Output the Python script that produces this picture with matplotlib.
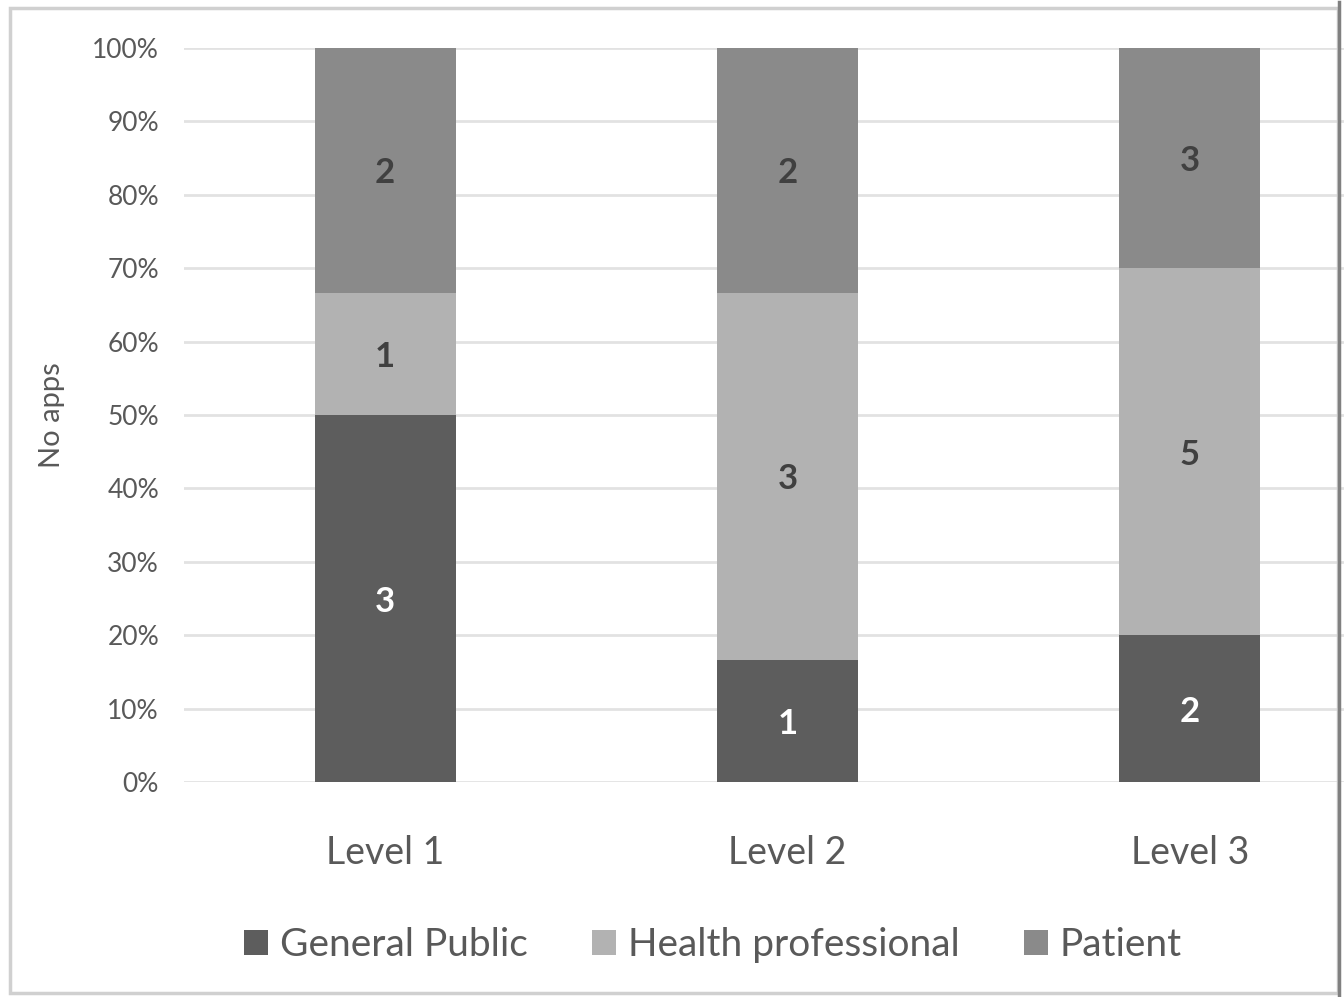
import matplotlib
matplotlib.use("Agg")
import matplotlib.pyplot as plt
from matplotlib.patches import Rectangle
from matplotlib.ticker import FuncFormatter
import numpy as np

categories = ["Level 1", "Level 2", "Level 3"]
series_names = ["General Public", "Health professional", "Patient"]
general_public = [3, 1, 2]
health_professional = [1, 3, 5]
patient = [2, 2, 3]
colors = ["#5d5d5d", "#b2b2b2", "#8a8a8a"]
label_colors = ["white", "#404040", "#404040"]
yticks = [0, 10, 20, 30, 40, 50, 60, 70, 80, 90, 100]

plt.rcParams['font.family'] = ['Lato', 'DejaVu Sans']

W, H = 1344, 997
fig = plt.figure(figsize=(W / 100, H / 100), dpi=100)
fig.patch.set_facecolor("white")

def px(x0, y0, x1, y1):
    return [x0 / W, 1 - y1 / H, (x1 - x0) / W, (y1 - y0) / H]

ax = fig.add_axes(px(184, 48, 1391, 782))

data = np.array([general_public, health_professional, patient], dtype=float)
totals = data.sum(axis=0)
pct = data / totals * 100
x = np.arange(len(categories))
bottom = np.zeros(len(categories))
for i, name in enumerate(series_names):
    bars = ax.bar(x, pct[i], 0.35, bottom=bottom, color=colors[i], label=name, zorder=3)
    for j, b in enumerate(bars):
        ax.text(b.get_x() + b.get_width() / 2, bottom[j] + pct[i][j] / 2,
                f"{int(data[i][j])}", ha="center", va="center_baseline",
                fontsize=25, fontweight="bold", color=label_colors[i], zorder=4)
    bottom += pct[i]

ax.set_xlim(-0.5, 2.5)
ax.set_ylim(0, 100)
ax.set_yticks(yticks)
ax.yaxis.set_major_formatter(FuncFormatter(lambda v, p: f"{int(v)}%"))
ax.grid(axis="y", color="#e2e2e2", linewidth=2, zorder=0)
ax.set_xticks(x)
ax.set_xticklabels(categories, fontsize=27, color="#595959")
ax.tick_params(axis="y", labelsize=19, colors="#595959", length=0, pad=18)
ax.tick_params(axis="x", length=0, pad=38)
for s in ax.spines.values():
    s.set_visible(False)

fig.text(52 / W, 1 - 415 / H, "No apps", rotation=90, ha="center", va="center",
         fontsize=21, color="#595959")

handles, labels = ax.get_legend_handles_labels()
fig.legend(handles, labels, loc="center", bbox_to_anchor=(713 / W, 1 - 945 / H),
           ncol=3, frameon=False, fontsize=28, handlelength=0.62, handleheight=0.62,
           handletextpad=0.3, columnspacing=1.65, labelcolor="#595959")

# outer frame
fig.add_artist(Rectangle((10 / W, 1 - 993 / H), (1338 - 10) / W, (993 - 8) / H,
                         transform=fig.transFigure, fill=False, edgecolor="#d0d0d0",
                         linewidth=2.5))
fig.add_artist(plt.Line2D([1339 / W, 1339 / W], [0, 1 - 2 / H], transform=fig.transFigure,
                          color="#808080", linewidth=2.5))

fig.savefig("out.png", dpi=100, facecolor="white")
